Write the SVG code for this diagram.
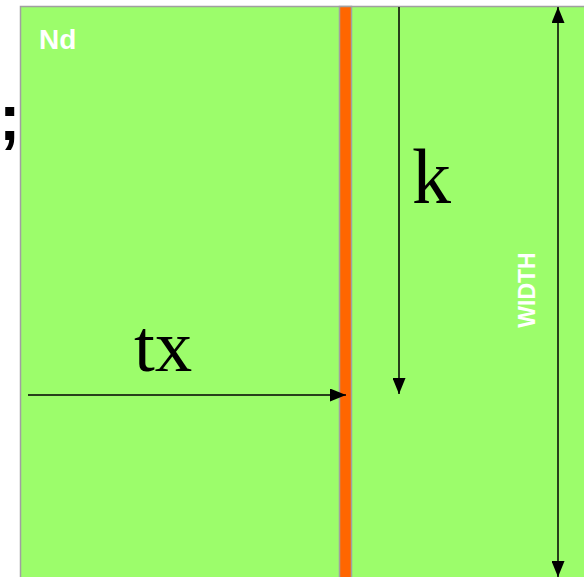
<svg xmlns="http://www.w3.org/2000/svg" width="584" height="577" viewBox="0 0 584 577">
<style>
.blk{fill:#9cfd6b;stroke:#a0a0a0;stroke-width:1.5}
.strip{fill:#ff6600;stroke:#a0a0a0;stroke-width:1.5}
.ser{font-family:"Liberation Serif",serif;fill:#000}
.lbl{font-family:"Liberation Sans",Arial,sans-serif;font-weight:bold;fill:#fff}
.ln{stroke:#000;stroke-width:1.5;fill:none}
</style>
<defs>
<marker id="ahb" viewBox="0 0 10 10" refX="10" refY="5" markerWidth="16" markerHeight="13" markerUnits="userSpaceOnUse" orient="auto-start-reverse" preserveAspectRatio="none"><path d="M0,0L10,5L0,10z" fill="#000"/></marker>
</defs>
<text x="-1" y="140" font-size="64" style="font-family:'Liberation Sans',sans-serif;font-weight:bold">;</text>
<g id="block">
<rect class="blk" x="20.5" y="6.5" width="580" height="590"/>
<text class="lbl" x="39" y="49" font-size="28">Nd</text>
</g>
<g id="strip">
<rect class="strip" x="339.5" y="6.5" width="12" height="590"/>
</g>
<g id="labels">
<text class="ser" x="412" y="203" font-size="78">k</text>
<text class="ser" x="134" y="371" font-size="75">tx</text>
<text class="lbl" font-size="23" transform="translate(535,290) rotate(-90)" text-anchor="middle">WIDTH</text>
</g>
<g id="connectors">
<line class="ln" x1="399" y1="7" x2="399" y2="394" marker-end="url(#ahb)"/>
<line class="ln" x1="28" y1="395" x2="346" y2="395" marker-end="url(#ahb)"/>
<line class="ln" x1="558" y1="7" x2="558" y2="577" marker-start="url(#ahb)" marker-end="url(#ahb)"/>
</g>
</svg>
